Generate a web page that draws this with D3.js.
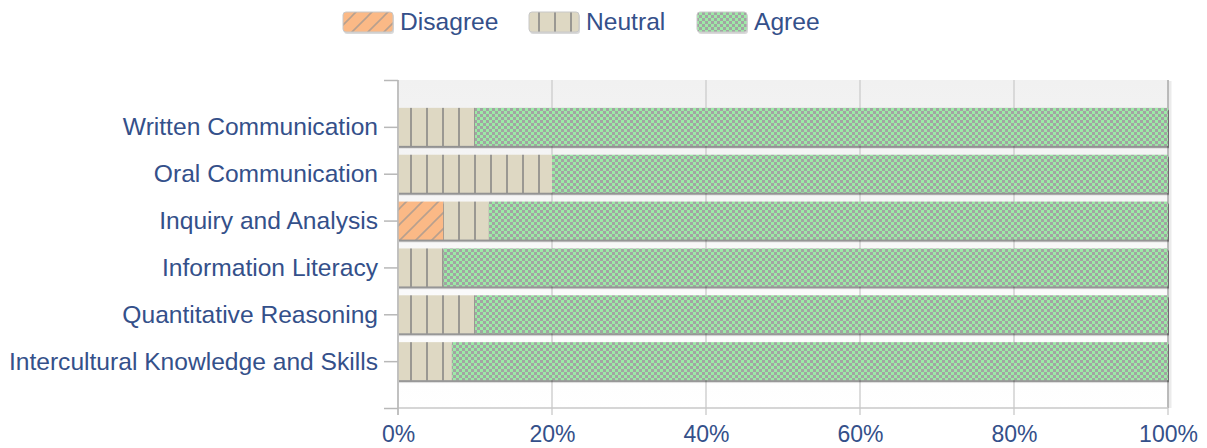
<!DOCTYPE html>
<html><head><meta charset="utf-8">
<script src="https://cdn.jsdelivr.net/npm/d3@7"></script>
<style>
html,body{margin:0;padding:0;background:#fff;}
svg{display:block;}
text{font-family:"Liberation Sans",Arial,sans-serif;fill:#34508a;}
</style></head>
<body>
<svg id="chart" width="1207" height="448"></svg>
<script>
const categories = ["Written Communication","Oral Communication","Inquiry and Analysis","Information Literacy","Quantitative Reasoning","Intercultural Knowledge and Skills"];
const seriesNames = ["Disagree","Neutral","Agree"];
const disagree = [0, 0, 5.9, 0, 0, 0];
const neutral  = [10, 20, 5.9, 5.9, 10, 7];
const agree    = [90, 80, 88.2, 94.1, 90, 93];
const xTicks = [0, 20, 40, 60, 80, 100];

const svg = d3.select("#chart");
const plot = {left: 398, right: 1168, top: 80, bottom: 408};

const x = d3.scaleLinear().domain([0, 100]).range([plot.left, plot.right]);
const y = d3.scaleLinear().domain([0, categories.length + 1]).range([plot.top, plot.bottom]);
const barH = 38;

const defs = svg.append("defs");
const g = defs.append("linearGradient").attr("id","bg").attr("x1",0).attr("y1",0).attr("x2",0).attr("y2",1);
g.append("stop").attr("offset","0%").attr("stop-color","#f1f1f1");
g.append("stop").attr("offset","100%").attr("stop-color","#ffffff");

const pD = defs.append("pattern").attr("id","pDis").attr("patternUnits","userSpaceOnUse")
  .attr("width",16).attr("height",16);
pD.append("rect").attr("width",16).attr("height",16).attr("fill","#fbb986");
pD.append("path").attr("d","M-4,4 L4,-4 M0,16 L16,0 M12,20 L20,12")
  .attr("stroke","#b8a08e").attr("stroke-width",1.6);

const pN = defs.append("pattern").attr("id","pNeu").attr("patternUnits","userSpaceOnUse")
  .attr("width",16).attr("height",16).attr("x",1);
pN.append("rect").attr("width",16).attr("height",16).attr("fill","#ded8c3");
pN.append("rect").attr("x",9).attr("width",2).attr("height",16).attr("fill","#9a9892");

const pA = defs.append("pattern").attr("id","pAgr").attr("patternUnits","userSpaceOnUse")
  .attr("width",6).attr("height",6);
pA.append("rect").attr("width",6).attr("height",6).attr("fill","#9ceaa6");
pA.append("rect").attr("width",3).attr("height",3).attr("fill","#a3a3a3");
pA.append("rect").attr("x",3).attr("y",3).attr("width",3).attr("height",3).attr("fill","#a3a3a3");

const fills = ["url(#pDis)","url(#pNeu)","url(#pAgr)"];

svg.append("rect").attr("x",plot.left).attr("y",plot.top)
  .attr("width",plot.right-plot.left).attr("height",plot.bottom-plot.top)
  .attr("fill","url(#bg)");

svg.append("g").selectAll("line").data(xTicks).join("line")
  .attr("x1",d=>x(d)).attr("x2",d=>x(d))
  .attr("y1",plot.top).attr("y2",plot.bottom+7)
  .attr("stroke","#d0d0d0").attr("stroke-width",1.5);

svg.append("line").attr("x1",x(100)+2).attr("x2",x(100)+2).attr("y1",plot.top+1).attr("y2",plot.bottom)
  .attr("stroke","#000").attr("stroke-opacity",0.08).attr("stroke-width",3);
svg.append("line").attr("x1",x(100)).attr("x2",x(100)).attr("y1",plot.top).attr("y2",plot.bottom)
  .attr("stroke","#b0b0b0").attr("stroke-width",1.5);

const rows = categories.map((c,i)=>{
  const vals = [disagree[i], neutral[i], agree[i]];
  let acc = 0;
  return vals.map((v,k)=>{ const s = {cat:c, i, k, x0:acc, x1:acc+v}; acc += v; return s; });
});

const barsG = svg.append("g");
barsG.selectAll("rect.shadow").data(categories).join("rect").attr("class","shadow")
  .attr("x",x(0)+1).attr("y",(d,i)=>y(i+1)-barH/2+2)
  .attr("width",x(100)-x(0)).attr("height",barH)
  .attr("fill","#000").attr("fill-opacity",0.35);
barsG.selectAll("rect.shadow2").data(categories).join("rect").attr("class","shadow2")
  .attr("x",x(0)+1).attr("y",(d,i)=>y(i+1)-barH/2+3)
  .attr("width",x(100)-x(0)).attr("height",barH)
  .attr("fill","#000").attr("fill-opacity",0.08);

rows.forEach(r=>{
  barsG.selectAll(null).data(r.filter(s=>s.x1>s.x0)).join("rect")
    .attr("x",s=>x(s.x0)).attr("y",s=>y(s.i+1)-barH/2)
    .attr("width",s=>x(s.x1)-x(s.x0)).attr("height",barH)
    .attr("fill",s=>fills[s.k]);
});

svg.append("line").attr("x1",plot.left).attr("x2",plot.right).attr("y1",plot.bottom).attr("y2",plot.bottom)
  .attr("stroke","#c8c8c8").attr("stroke-width",1.5);

const yAxis = d3.axisLeft(y).tickValues(d3.range(0, categories.length + 2))
  .tickSize(14).tickPadding(4)
  .tickFormat(d => (d>=1 && d<=categories.length) ? categories[d-1] : "");
const ya = svg.append("g").attr("transform",`translate(${plot.left},0)`).call(yAxis);
ya.select(".domain").remove();
ya.selectAll(".tick line").attr("stroke","#b8b8b8").attr("stroke-width",1.5);
ya.selectAll(".tick text").attr("font-size","24.6px").attr("fill","#34508a")
  .attr("font-family","Liberation Sans, Arial, sans-serif").attr("dx",-2);
svg.append("line").attr("x1",plot.left).attr("x2",plot.left).attr("y1",plot.top).attr("y2",plot.bottom+7)
  .attr("stroke","#b8b8b8").attr("stroke-width",1.5);

const xAxis = d3.axisBottom(x).tickValues(xTicks).tickSize(0).tickPadding(0)
  .tickFormat(d=>d+"%");
const xa = svg.append("g").attr("transform",`translate(0,${plot.bottom})`).call(xAxis);
xa.select(".domain").remove();
xa.selectAll(".tick text").attr("font-size","23px").attr("fill","#34508a")
  .attr("font-family","Liberation Sans, Arial, sans-serif").attr("dy",null).attr("y",34);

const legendX = [343, 529, 697];
const lg = svg.append("g");
seriesNames.forEach((n,k)=>{
  const gx = legendX[k];
  lg.append("rect").attr("x",gx+1).attr("y",14).attr("width",50).attr("height",20).attr("rx",3)
    .attr("fill","#000").attr("fill-opacity",0.15);
  lg.append("rect").attr("x",gx).attr("y",12).attr("width",50).attr("height",20).attr("rx",3)
    .attr("fill",fills[k]).attr("stroke","#c8c8c8").attr("stroke-width",1);
  lg.append("text").attr("x",gx+57).attr("y",30).attr("font-size","24.6px").text(n);
});
</script>
</body></html>
